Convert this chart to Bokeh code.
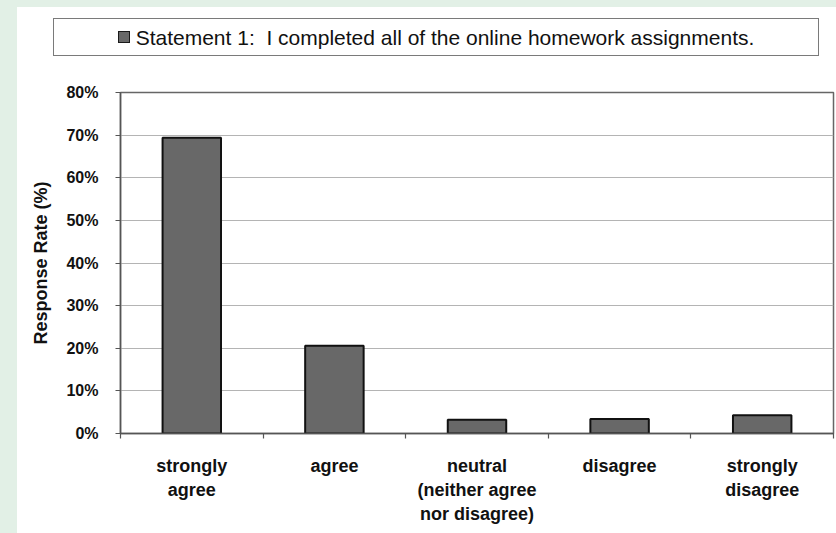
from bokeh.plotting import figure
from bokeh.models import (Range1d, FixedTicker, PrintfTickFormatter,
                          ColumnDataSource, Div)
from bokeh.layouts import column
from bokeh.embed import file_html
from bokeh.resources import INLINE

# Survey responses for statement 1
categories = ["strongly agree", "agree", "neutral (neither agree nor disagree)",
              "disagree", "strongly disagree"]
category_labels = ["strongly\nagree", "agree", "neutral\n(neither agree\nnor disagree)",
                   "disagree", "strongly\ndisagree"]
response_rate = [69.4, 20.6, 3.2, 3.4, 4.3]
y_ticks = [0, 10, 20, 30, 40, 50, 60, 70, 80]
series_name = "Statement 1:  I completed all of the online homework assignments."

FONT = "Liberation Sans"
INK = "#111111"
BAR_FILL = "#686868"
AXIS_GREY = "#555555"

centers = [i + 0.5 for i in range(len(categories))]
boundaries = list(range(len(categories) + 1))
src = ColumnDataSource(data=dict(x=centers, rate=response_rate, name=categories))

W = 819

# --- series key in a framed box above the chart -----------------------------
key_html = (
    '<div style="box-sizing:border-box; margin:11px 0 0 36px; width:766px; height:38px;'
    ' border:1.5px solid #7a7a7a; background:white; display:flex;'
    ' align-items:center; justify-content:center;">'
    '<span style="display:inline-block; box-sizing:border-box; width:12px; height:12px;'
    f' background:{BAR_FILL}; border:1.5px solid #1a1a1a;"></span>'
    f'<span style="margin-left:6px; font-family:\'{FONT}\'; font-size:21px;'
    f' color:{INK}; white-space:pre; line-height:1;">{series_name}</span>'
    '</div>'
)
key = Div(text=key_html, width=W, height=60, margin=(0, 0, 0, 0),
          styles={"background-color": "white"})

# --- bar chart --------------------------------------------------------------
p = figure(width=W, height=466, x_range=Range1d(0, 5), y_range=Range1d(0, 80),
           output_backend="svg", toolbar_location=None,
           min_border_left=103, min_border_right=3,
           min_border_top=25, min_border_bottom=100,
           border_fill_color="white", background_fill_color="white",
           outline_line_color="#666666", outline_line_width=1.5,
           margin=(0, 0, 0, 0))

p.vbar(x="x", top="rate", width=0.41, source=src,
       fill_color=BAR_FILL, line_color=INK, line_width=2)

# x axis: labels under each bar, small ticks on the category boundaries
xa = p.xaxis[0]
xa.ticker = FixedTicker(ticks=centers, minor_ticks=boundaries)
xa.major_label_overrides = {c: lab for c, lab in zip(centers, category_labels)}
xa.major_tick_in = 0
xa.major_tick_out = 0
xa.minor_tick_in = 0
xa.minor_tick_out = 5
xa.minor_tick_line_color = AXIS_GREY
xa.minor_tick_line_width = 1.2
xa.axis_line_color = AXIS_GREY
xa.axis_line_width = 1.5
xa.major_label_standoff = 17
xa.major_label_text_font = FONT
xa.major_label_text_font_style = "bold"
xa.major_label_text_font_size = "18px"
xa.major_label_text_color = INK
xa.major_label_text_align = "center"

ya = p.yaxis[0]
ya.ticker = FixedTicker(ticks=y_ticks)
ya.formatter = PrintfTickFormatter(format="%d%%")
ya.major_tick_in = 0
ya.major_tick_out = 5
ya.major_tick_line_color = AXIS_GREY
ya.minor_tick_line_color = None
ya.axis_line_color = AXIS_GREY
ya.axis_line_width = 1.5
ya.major_label_standoff = 17
ya.major_label_text_font = FONT
ya.major_label_text_font_style = "bold"
ya.major_label_text_font_size = "16px"
ya.major_label_text_color = INK
ya.axis_label = "Response Rate (%)"
ya.axis_label_text_font = FONT
ya.axis_label_text_font_style = "bold"
ya.axis_label_text_font_size = "18px"
ya.axis_label_text_color = INK
ya.axis_label_standoff = 12

p.xgrid.grid_line_color = None
p.ygrid.ticker = FixedTicker(ticks=y_ticks)
p.ygrid.grid_line_color = "#b4b4b4"
p.ygrid.grid_line_width = 1

layout = column(key, p, spacing=0, margin=(7, 0, 0, 17),
                styles={"background-color": "white"})

html = file_html(layout, INLINE, title="Statement 1")
html = html.replace(
    "<head>",
    "<head><style>html, body {margin: 0; background: #e2f0e6;}</style>", 1)
open("out.html", "w").write(html)
